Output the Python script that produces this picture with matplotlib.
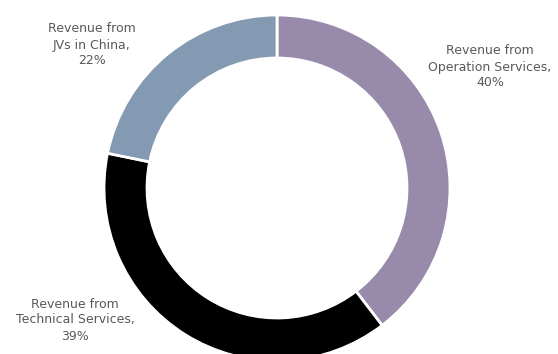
import matplotlib.pyplot as plt

labels = ['Revenue from\nOperation Services,\n40%',
          'Revenue from\nTechnical Services,\n39%',
          'Revenue from\nJVs in China,\n22%']
values = [40, 39, 22]
colors = ['#988aab', '#000000', '#8499b2']
label_pos = [(490, 287), (75, 34), (92, 309)]

fig = plt.figure(figsize=(5.58, 3.54), dpi=100)
ax = fig.add_axes([0, 0, 1, 1])
ax.set_xlim(0, 558)
ax.set_ylim(0, 354)
ax.set_aspect('equal')
ax.axis('off')

ax.pie(values, colors=colors, startangle=90, counterclock=False,
       center=(277, 166), radius=173, frame=True,
       wedgeprops=dict(width=43, edgecolor='white', linewidth=2))
ax.set_xlim(0, 558)
ax.set_ylim(0, 354)
ax.axis('off')

for lab, (x, y) in zip(labels, label_pos):
    ax.text(x, y, lab, ha='center', va='center', fontsize=9,
            color='#595959', linespacing=1.3)

plt.savefig('out.png', dpi=100)
